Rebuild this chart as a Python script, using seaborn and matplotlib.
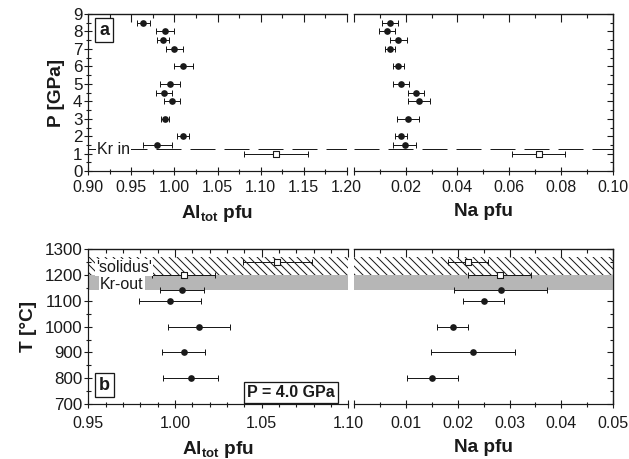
import numpy as np
import pandas as pd
import matplotlib
matplotlib.use('Agg')
import matplotlib.pyplot as plt
from matplotlib.ticker import MultipleLocator, FuncFormatter, NullFormatter
import seaborn as sns

# (a) runs at variable pressure
p_gpa = [8.5, 8.0, 7.5, 7.0, 6.0, 5.0, 4.5, 4.0, 3.0, 2.0, 1.5, 1.0]
al_p = [0.964, 0.989, 0.987, 1.000, 1.010, 0.995, 0.988, 0.997, 0.989, 1.010, 0.980, 1.118]
al_p_err = [0.008, 0.010, 0.007, 0.010, 0.011, 0.012, 0.009, 0.009, 0.005, 0.007, 0.017, 0.037]
na_p = [0.0140, 0.0129, 0.0171, 0.0139, 0.0171, 0.0182, 0.0240, 0.0251, 0.0209, 0.0182, 0.0196, 0.0714]
na_p_err = [0.0030, 0.0031, 0.0032, 0.0020, 0.0021, 0.0031, 0.0032, 0.0042, 0.0044, 0.0022, 0.0045, 0.0103]
open_p = [False] * 11 + [True]
kr_in = 1.25

# (b) runs at 4.0 GPa, variable temperature
t_c = [1250, 1200, 1140, 1100, 1000, 900, 800]
al_t = [1.059, 1.005, 1.004, 0.997, 1.014, 1.005, 1.009]
al_t_err = [0.020, 0.018, 0.0125, 0.018, 0.018, 0.0125, 0.016]
na_t = [0.0220, 0.0281, 0.0283, 0.0250, 0.0190, 0.0230, 0.0151]
na_t_err = [0.0039, 0.0061, 0.0090, 0.0039, 0.0030, 0.0081, 0.0049]
open_t = [True, True, False, False, False, False, False]
solidus_band = (1200, 1270)
kr_out_band = (1140, 1200)

df_p = pd.DataFrame({'y': p_gpa, 'al': al_p, 'al_err': al_p_err,
                     'na': na_p, 'na_err': na_p_err, 'open': open_p})
df_t = pd.DataFrame({'y': t_c, 'al': al_t, 'al_err': al_t_err,
                     'na': na_t, 'na_err': na_t_err, 'open': open_t})

sns.set_theme(style='ticks')
plt.rcParams['font.family'] = ['Liberation Sans', 'DejaVu Sans']
plt.rcParams['mathtext.fontset'] = 'custom'
plt.rcParams['mathtext.rm'] = 'Liberation Sans'
plt.rcParams['mathtext.bf'] = 'Liberation Sans:bold'
plt.rcParams['hatch.linewidth'] = 1.0
plt.rcParams['axes.linewidth'] = 1.2

fig = plt.figure(figsize=(629 / 72, 459 / 72), dpi=72)
ax_pa = fig.add_axes([0.1404, 0.627, 0.4108, 0.3425])
ax_pn = fig.add_axes([0.5628, 0.627, 0.4113, 0.3425])
ax_ta = fig.add_axes([0.1404, 0.1195, 0.4134, 0.338])
ax_tn = fig.add_axes([0.5628, 0.1195, 0.4122, 0.338])


def draw_points(ax, df, col):
    ax.errorbar(df[col], df['y'], xerr=df[col + '_err'], fmt='none', ecolor='k',
                elinewidth=1, capsize=3, capthick=1, zorder=3)
    sns.scatterplot(data=df[~df['open']], x=col, y='y', ax=ax, color='k',
                    marker='o', s=45, linewidth=0, zorder=4)
    sns.scatterplot(data=df[df['open']], x=col, y='y', ax=ax, facecolor='white',
                    edgecolor='k', marker='s', s=30, linewidth=1.1, zorder=4)
    ax.set_xlabel('')
    ax.set_ylabel('')


def style_panel(ax, side, xlim, ylim, xmaj, xmin, ymaj, ymin, xpad, hide_zero=False):
    ax.set_xlim(*xlim)
    ax.set_ylim(*ylim)
    ax.xaxis.set_major_locator(MultipleLocator(xmaj))
    ax.xaxis.set_minor_locator(MultipleLocator(xmin))
    ax.yaxis.set_major_locator(MultipleLocator(ymaj))
    ax.yaxis.set_minor_locator(MultipleLocator(ymin))
    if hide_zero:
        ax.xaxis.set_major_formatter(FuncFormatter(lambda v, p: '' if abs(v) < 1e-9 else '%.2f' % v))
    else:
        ax.xaxis.set_major_formatter(FuncFormatter(lambda v, p: '%.2f' % v))
    ax.tick_params(which='major', direction='inout', length=8, width=1.1,
                   labelsize=16, color='k', labelcolor='k', pad=2)
    ax.tick_params(axis='y', labelsize=17)
    ax.tick_params(axis='x', pad=xpad)
    ax.tick_params(which='minor', direction='inout', length=5, width=1.1, color='k')
    for s in ax.spines.values():
        s.set_color('k')
    top = ax.secondary_xaxis('top')
    top.xaxis.set_major_locator(MultipleLocator(xmaj))
    top.xaxis.set_minor_locator(MultipleLocator(xmin))
    top.xaxis.set_major_formatter(NullFormatter())
    top.tick_params(which='major', direction='in', length=8, width=1.1, color='k')
    top.tick_params(which='minor', direction='in', length=4, width=1.1, color='k')
    top.spines['top'].set_color('k')
    if side == 'left':
        ax.spines['right'].set_visible(False)
    else:
        ax.spines['left'].set_visible(False)
        ax.tick_params(axis='y', which='both', left=False, labelleft=False)
        right = ax.secondary_yaxis('right')
        right.yaxis.set_major_locator(MultipleLocator(ymaj))
        right.yaxis.set_minor_locator(MultipleLocator(ymin))
        right.yaxis.set_major_formatter(NullFormatter())
        right.tick_params(which='major', direction='in', length=6, width=1.1, color='k')
        right.tick_params(which='minor', direction='in', length=3, width=1.1, color='k')
        right.spines['right'].set_color('k')


# bands in panel b
for ax in (ax_ta, ax_tn):
    ax.axhspan(*solidus_band, facecolor='none', edgecolor='k', hatch='\\\\\\', linewidth=0, zorder=1)
    ax.axhspan(*kr_out_band, facecolor='white', edgecolor='#303030', hatch='.' * 6, linewidth=0, zorder=1)

# Kr-in line in panel a
for ax in (ax_pa, ax_pn):
    ax.axhline(kr_in, color='k', linewidth=1, dashes=(25, 9), zorder=2)

draw_points(ax_pa, df_p, 'al')
draw_points(ax_pn, df_p, 'na')
draw_points(ax_ta, df_t, 'al')
draw_points(ax_tn, df_t, 'na')

style_panel(ax_pa, 'left', (0.90, 1.20), (0, 9), 0.05, 0.025, 1, 0.5, 5)
style_panel(ax_pn, 'right', (0.0, 0.10), (0, 9), 0.02, 0.01, 1, 0.5, 5, hide_zero=True)
style_panel(ax_ta, 'left', (0.95, 1.10), (700, 1300), 0.05, 0.01, 100, 50, 8)
style_panel(ax_tn, 'right', (0.0, 0.05), (700, 1300), 0.01, 0.005, 100, 50, 8, hide_zero=True)

lab = dict(fontsize=19, fontweight='bold', color='k')
ax_pa.set_ylabel('P [GPa]', labelpad=8, **lab)
ax_ta.set_ylabel('T [°C]', labelpad=8, **lab)
for ax in (ax_pa, ax_ta):
    ax.set_xlabel(r'$\mathbf{Al_{tot}}$ pfu', labelpad=8, **lab)
for ax in (ax_pn, ax_tn):
    ax.set_xlabel('Na pfu', labelpad=8, **lab)

box = dict(facecolor='white', edgecolor='k', linewidth=1.3, boxstyle='square,pad=0.2')
ax_pa.text(0.061, 0.898, 'a', transform=ax_pa.transAxes, ha='center', va='center',
           fontsize=18, fontweight='bold', color='k', bbox=box, zorder=6)
ax_ta.text(0.062, 0.123, 'b', transform=ax_ta.transAxes, ha='center', va='center',
           fontsize=18, fontweight='bold', color='k', bbox=box, zorder=6)
ax_ta.text(0.78, 0.077, 'P = 4.0 GPa', transform=ax_ta.transAxes, ha='center', va='center',
           fontsize=16, fontweight='bold', color='k', bbox=box, zorder=6)

white = dict(facecolor='white', edgecolor='none', pad=1)
ax_pa.text(0.035, kr_in, 'Kr in', transform=ax_pa.get_yaxis_transform(), ha='left',
           va='center', fontsize=16, color='k', bbox=white, zorder=6)
ax_ta.text(0.03, 1228, "'solidus'", transform=ax_ta.get_yaxis_transform(), ha='left',
           va='center', fontsize=16, color='k', bbox=white, zorder=6)
ax_ta.text(0.045, 1163, 'Kr-out', transform=ax_ta.get_yaxis_transform(), ha='left',
           va='center', fontsize=16, color='k', bbox=white, zorder=6)

fig.savefig('out.png', dpi=72, facecolor='white')
